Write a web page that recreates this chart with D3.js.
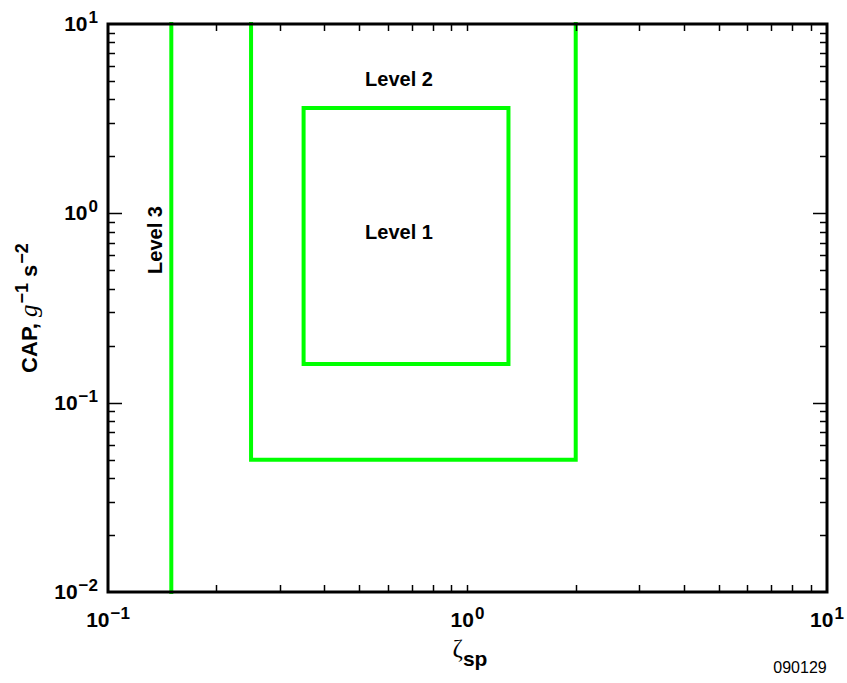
<!DOCTYPE html>
<html>
<head>
<meta charset="utf-8">
<script src="https://cdn.jsdelivr.net/npm/d3@7"></script>
<style>
  html, body { margin: 0; padding: 0; background: #fff; }
  svg { display: block; }
  text { font-family: "Liberation Sans", Arial, Helvetica, sans-serif; fill: #000; }
</style>
</head>
<body>
<svg id="chart" width="847" height="683"></svg>
<script>
  // flying qualities boundaries (CAP vs short period damping)
  var zetaDomain = [0.1, 10];
  var capDomain = [0.01, 10];

  var level1Zeta = [0.35, 1.3];
  var level1Cap = [0.16, 3.6];
  var level2Zeta = [0.25, 2.0];
  var level2Cap = [0.05, 10];
  var level3Zeta = 0.15;
  var level3Cap = [0.01, 10];

  var xTickLabels = [{v: 0.1, exp: "\u22121"}, {v: 1, exp: "0"}, {v: 10, exp: "1"}];
  var yTickLabels = [{v: 0.01, exp: "\u22122"}, {v: 0.1, exp: "\u22121"}, {v: 1, exp: "0"}, {v: 10, exp: "1"}];

  // note: "top" is taken by window.top, so use plot* names
  var plotLeft = 108, plotRight = 827, plotTop = 24, plotBottom = 592;
  var green = "#00ff00";

  var svg = d3.select("#chart");
  var x = d3.scaleLog().domain(zetaDomain).range([plotLeft, plotRight]);
  var y = d3.scaleLog().domain(capDomain).range([plotBottom, plotTop]);

  var line = d3.line().x(function(d) { return x(d[0]); }).y(function(d) { return y(d[1]); });

  // level boundaries
  var level1 = [[level1Zeta[0], level1Cap[0]], [level1Zeta[0], level1Cap[1]],
                [level1Zeta[1], level1Cap[1]], [level1Zeta[1], level1Cap[0]],
                [level1Zeta[0], level1Cap[0]]];
  var level2 = [[level2Zeta[0], level2Cap[1]], [level2Zeta[0], level2Cap[0]],
                [level2Zeta[1], level2Cap[0]], [level2Zeta[1], level2Cap[1]]];
  var level3 = [[level3Zeta, level3Cap[0]], [level3Zeta, level3Cap[1]]];

  svg.selectAll("path.level")
    .data([level1, level2, level3])
    .enter().append("path")
    .attr("class", "level")
    .attr("d", line)
    .attr("fill", "none")
    .attr("stroke", green)
    .attr("stroke-width", 4)
    .attr("stroke-linejoin", "miter")
    .attr("stroke-linecap", "square");

  // ticks, inside on all four sides
  var minorLen = 7, majorLen = 14;
  var isMajor = function(v) { return Math.abs(Math.log10(v) - Math.round(Math.log10(v))) < 1e-9; };
  var xt = x.ticks().filter(function(v) { return v > zetaDomain[0] && v < zetaDomain[1]; });
  var yt = y.ticks().filter(function(v) { return v > capDomain[0] && v < capDomain[1]; });

  var ticks = svg.append("g").attr("stroke", "#000").attr("stroke-width", 1.5);
  xt.forEach(function(v) {
    var px = Math.round(x(v)) + 0.5;
    ticks.append("line").attr("x1", px).attr("x2", px).attr("y1", plotBottom).attr("y2", plotBottom - minorLen);
    ticks.append("line").attr("x1", px).attr("x2", px).attr("y1", plotTop).attr("y2", plotTop + minorLen);
  });
  yt.forEach(function(v) {
    var py = Math.round(y(v)) + 0.5;
    var len = isMajor(v) ? majorLen : minorLen;
    ticks.append("line").attr("x1", plotLeft).attr("x2", plotLeft + len).attr("y1", py).attr("y2", py);
    ticks.append("line").attr("x1", plotRight).attr("x2", plotRight - len).attr("y1", py).attr("y2", py);
  });

  // frame
  svg.append("rect")
    .attr("x", plotLeft).attr("y", plotTop)
    .attr("width", plotRight - plotLeft).attr("height", plotBottom - plotTop)
    .attr("fill", "none").attr("stroke", "#000").attr("stroke-width", 3);

  // tick labels
  function power(sel, exp) {
    sel.append("tspan").text("10");
    sel.append("tspan").attr("dy", -8).attr("dx", 1).attr("font-size", 17).text(exp);
  }
  xTickLabels.forEach(function(t) {
    var txt = svg.append("text")
      .attr("x", x(t.v)).attr("y", 627)
      .attr("text-anchor", "middle")
      .attr("font-size", 21).attr("font-weight", "bold");
    power(txt, t.exp);
  });
  yTickLabels.forEach(function(t) {
    var txt = svg.append("text")
      .attr("x", 98).attr("y", y(t.v) + 7)
      .attr("text-anchor", "end")
      .attr("font-size", 21).attr("font-weight", "bold");
    power(txt, t.exp);
  });

  // axis titles
  var xTitle = svg.append("text").attr("x", 470).attr("y", 657).attr("text-anchor", "middle");
  xTitle.append("tspan").attr("font-family", "'Liberation Serif', 'Times New Roman', serif")
    .attr("font-size", 25).text("\u03b6");
  xTitle.append("tspan").attr("dy", 9).attr("font-size", 21).attr("font-weight", "bold").text("sp");

  var yTitle = svg.append("text")
    .attr("transform", "translate(37," + ((plotTop + plotBottom) / 2) + ") rotate(-90)")
    .attr("text-anchor", "middle")
    .attr("font-size", 22).attr("font-weight", "bold");
  yTitle.append("tspan").text("CAP, ");
  yTitle.append("tspan").attr("font-family", "'Liberation Serif', 'Times New Roman', serif")
    .attr("font-style", "italic").attr("font-weight", "normal").attr("font-size", 25).text("g");
  yTitle.append("tspan").attr("dy", -9).attr("dx", 1).attr("font-size", 18).text("\u22121");
  yTitle.append("tspan").attr("dy", 9).text(" s");
  yTitle.append("tspan").attr("dy", -9).attr("dx", 1).attr("font-size", 18).text("\u22122");

  // level labels
  svg.append("text").attr("x", 399).attr("y", 86).attr("text-anchor", "middle")
    .attr("font-size", 20).attr("font-weight", "bold").text("Level 2");
  svg.append("text").attr("x", 399).attr("y", 239).attr("text-anchor", "middle")
    .attr("font-size", 20).attr("font-weight", "bold").text("Level 1");
  svg.append("text")
    .attr("transform", "translate(162,240) rotate(-90)")
    .attr("text-anchor", "middle")
    .attr("font-size", 20).attr("font-weight", "bold").text("Level 3");

  svg.append("text").attr("x", 800).attr("y", 673).attr("text-anchor", "middle")
    .attr("font-size", 16).text("090129");
</script>
</body>
</html>
